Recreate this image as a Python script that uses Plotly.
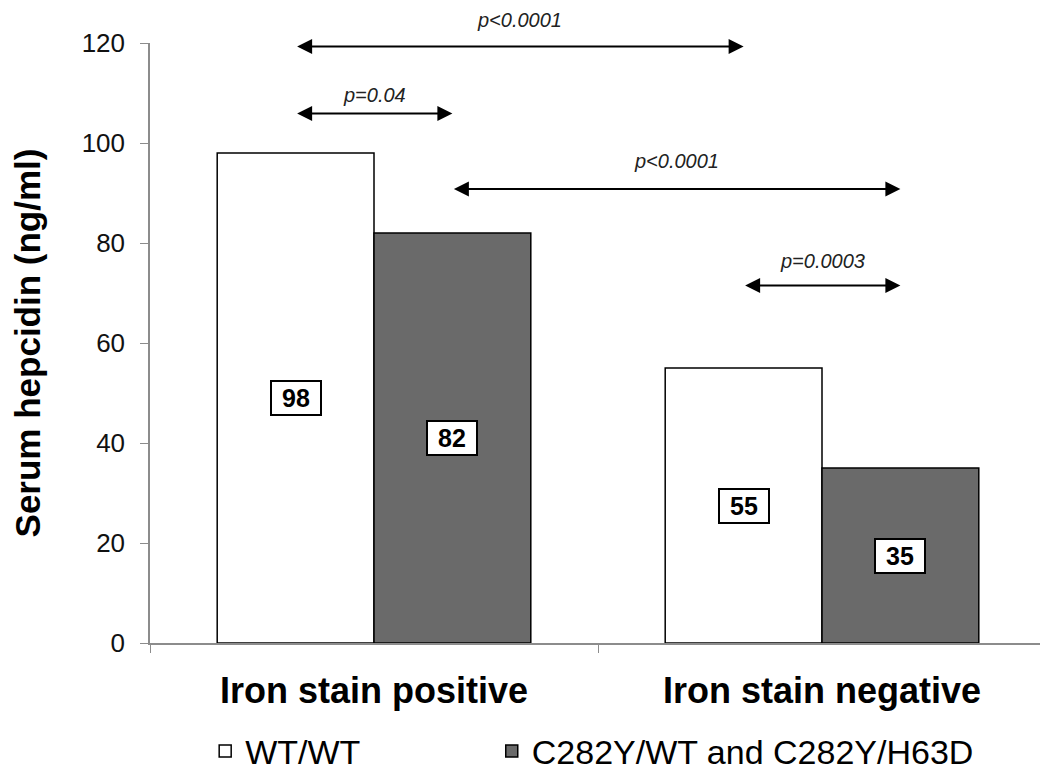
import plotly.graph_objects as go

categories = ["Iron stain positive", "Iron stain negative"]
series_names = ["WT/WT", "C282Y/WT and C282Y/H63D"]
wt_values = [98, 55]
mut_values = [82, 35]
y_ticks = [0, 20, 40, 60, 80, 100, 120]
# comparisons: ((category index, series index), (category index, series index), label)
comparisons = [
    ((0, 0), (1, 0), "p<0.0001"),
    ((0, 0), (0, 1), "p=0.04"),
    ((0, 1), (1, 1), "p<0.0001"),
    ((1, 0), (1, 1), "p=0.0003"),
]

# layout / style settings
arrow_y = [119.3, 105.9, 90.8, 71.5]
label_shift = [27, 19, 28, 25]  # px above arrow
BARGAP = 0.30
fill_colors = ["#ffffff", "#6a6a6a"]
legend_ids = ["legend", "legend2"]
legend_x = [0.062, 0.384]
REG = "Liberation Sans, Arial"

fig = go.Figure()
all_vals = [wt_values, mut_values]
for name, vals, col, lg in zip(series_names, all_vals, fill_colors, legend_ids):
    fig.add_trace(go.Bar(
        x=categories, y=vals, name=name, legend=lg,
        marker=dict(color=col, line=dict(color="#000000", width=1.5)),
        hoverinfo="skip",
    ))

half = (1 - BARGAP) / 4.0


def xpos(ci, si):
    return ci + (-half if si == 0 else half)


annotations = []
# value boxes
for si, vals in enumerate(all_vals):
    for ci, v in enumerate(vals):
        annotations.append(dict(
            x=xpos(ci, si), y=v / 2.0, xref="x", yref="y",
            text="<b>%d</b>" % v, showarrow=False,
            font=dict(family=REG, size=25, color="#000000"),
            bgcolor="#ffffff", bordercolor="#000000", borderwidth=2,
            borderpad=1, width=46, height=30,
        ))

# comparison arrows
for (a, b, lab), ay, sh in zip(comparisons, arrow_y, label_shift):
    x0 = xpos(*a)
    x1 = xpos(*b)
    annotations.append(dict(
        x=x1, y=ay, ax=x0, ay=ay, xref="x", yref="y", axref="x", ayref="y",
        text="", showarrow=True, arrowhead=2, arrowside="end+start",
        arrowsize=1.5, arrowwidth=2, arrowcolor="#000000",
    ))
    annotations.append(dict(
        x=(x0 + x1) / 2.0, y=ay, xref="x", yref="y", yshift=sh,
        text="<i>%s</i>" % lab, showarrow=False,
        font=dict(family=REG, size=20, color="#222222"),
    ))

legend_style = dict(
    orientation="h", xref="paper", y=0.033, yref="container",
    yanchor="middle", xanchor="left",
    font=dict(family=REG, size=34, color="#000000"),
    itemwidth=30, bgcolor="rgba(0,0,0,0)",
)

fig.update_layout(
    width=1040, height=777,
    margin=dict(l=150, r=0, t=43, b=134, autoexpand=False),
    paper_bgcolor="#ffffff", plot_bgcolor="#ffffff",
    barmode="group", bargap=BARGAP, bargroupgap=0,
    annotations=annotations,
    showlegend=True,
    legend=dict(x=legend_x[0], **legend_style),
    legend2=dict(x=legend_x[1], **legend_style),
    font=dict(family=REG, color="#000000"),
)

fig.update_xaxes(
    range=[-0.5, -0.5 + 890 / 448.0], automargin=False,
    showline=True, linecolor="#8c8c8c", linewidth=1.5,
    ticks="outside", tickson="boundaries", ticklen=8, tickcolor="#8c8c8c",
    tickfont=dict(family=REG, size=36, color="#000000"),
    tickprefix="<b>", ticksuffix="</b>", ticklabelstandoff=15,
    showgrid=False, zeroline=False,
)
fig.update_yaxes(
    range=[0, 120], tickvals=y_ticks, automargin=False,
    showline=True, linecolor="#8c8c8c", linewidth=1.5,
    ticks="outside", ticklen=8, tickcolor="#8c8c8c",
    tickfont=dict(family=REG, size=26, color="#111111"),
    ticklabelstandoff=10,
    showgrid=False, zeroline=False,
    title=dict(text="<b>Serum hepcidin (ng/ml)</b>",
               font=dict(family=REG, size=35, color="#000000"), standoff=30),
)

fig.write_html("out.html", config={"displayModeBar": False},
               post_script="document.body.style.margin='0';")
